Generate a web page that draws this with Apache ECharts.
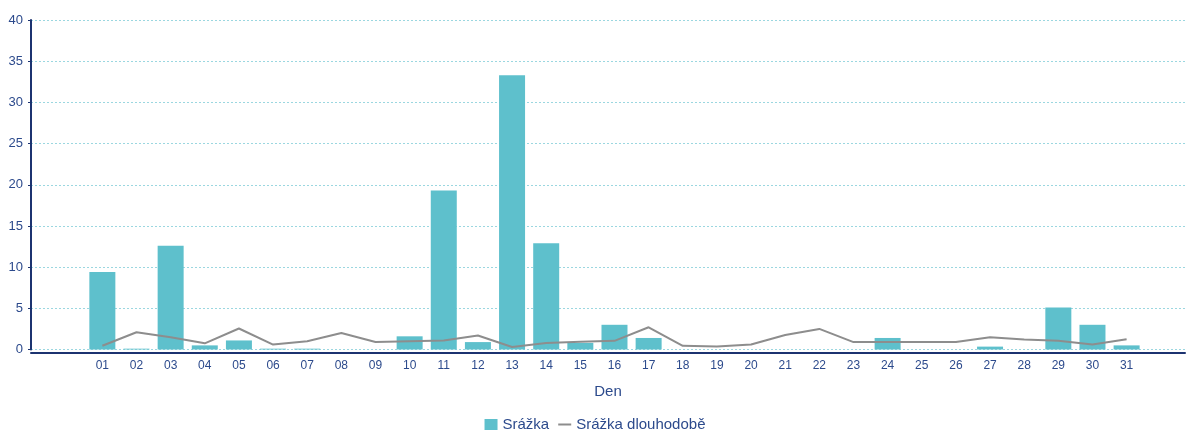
<!DOCTYPE html>
<html>
<head>
<meta charset="utf-8">
<script src="https://cdn.jsdelivr.net/npm/echarts@6/dist/echarts.min.js"></script>
<style>
  html, body { margin: 0; padding: 0; background: #fff; }
  #chart { width: 1190px; height: 432px; }
</style>
</head>
<body>
<div id="chart"></div>
<script>
// dny v mesici
const days = ['01','02','03','04','05','06','07','08','09','10','11','12','13','14','15','16',
              '17','18','19','20','21','22','23','24','25','26','27','28','29','30','31'];
// srazka [mm]
const srazka = [9.4, 0.1, 12.6, 0.5, 1.1, 0.1, 0.1, 0, 0, 1.6, 19.3, 0.9, 33.3, 12.9, 0.8, 3.0,
                1.4, 0, 0, 0, 0, 0, 0, 1.4, 0, 0, 0.35, 0, 5.1, 3.0, 0.5];
// srazka dlouhodobe [mm]
const dlouhodobe = [0.45, 2.1, 1.5, 0.75, 2.55, 0.6, 1.0, 2.0, 0.9, 1.0, 1.1, 1.7, 0.3, 0.8, 0.95, 1.05,
                    2.7, 0.45, 0.35, 0.6, 1.75, 2.5, 0.9, 0.9, 0.9, 0.9, 1.5, 1.2, 1.05, 0.6, 1.25];
const yTicks = [0, 5, 10, 15, 20, 25, 30, 35, 40];

const navy = '#1c3370';
const textNavy = '#2c4a8c';
const barColor = '#5ec0cc';
const lineColor = '#8d8d8d';

const chart = echarts.init(document.getElementById('chart'));
chart.setOption({
    animation: false,
    backgroundColor: '#fff',
    textStyle: { fontFamily: 'Liberation Sans, Arial, sans-serif' },
    grid: { left: 31, right: 5, top: 20, bottom: 82.5 },
    legend: {
        top: 412,
        left: 'center',
        itemGap: 8,
        itemWidth: 13,
        itemHeight: 11,
        textStyle: { color: textNavy, fontSize: 15 },
        data: [
            { name: 'Srážka', icon: 'rect', itemStyle: { color: barColor } },
            { name: 'Srážka dlouhodobě', itemStyle: { opacity: 0 } }
        ]
    },
    xAxis: {
        type: 'value',
        min: -1.09,
        max: 32.71,
        offset: 3,
        name: 'Den',
        nameLocation: 'middle',
        nameGap: 32,
        nameTextStyle: { color: textNavy, fontSize: 15 },
        axisLine: { show: true, onZero: false, lineStyle: { color: navy, width: 2 } },
        axisTick: { show: false },
        splitLine: { show: false },
        axisLabel: {
            customValues: days.map((d, i) => i + 1),
            formatter: v => days[Math.round(v) - 1] || '',
            color: textNavy,
            fontSize: 12,
            margin: 7
        }
    },
    yAxis: {
        type: 'value',
        min: yTicks[0],
        max: yTicks[yTicks.length - 1],
        interval: 5,
        axisLine: { show: true, onZero: false, lineStyle: { color: navy, width: 2 } },
        axisTick: { show: true, length: 3, lineStyle: { color: navy } },
        axisLabel: { color: textNavy, fontSize: 13, margin: 8 },
        splitLine: { show: true, lineStyle: { color: '#9bd7e0', type: [2, 2], width: 1 } }
    },
    series: [
        {
            name: 'Srážka',
            type: 'bar',
            barWidth: 26,
            itemStyle: { color: barColor },
            data: srazka.map((v, i) => [i + 1, v])
        },
        {
            name: 'Srážka dlouhodobě',
            type: 'line',
            symbol: 'none',
            lineStyle: { color: lineColor, width: 2 },
            itemStyle: { color: lineColor },
            data: dlouhodobe.map((v, i) => [i + 1, v])
        }
    ]
});
</script>
</body>
</html>
